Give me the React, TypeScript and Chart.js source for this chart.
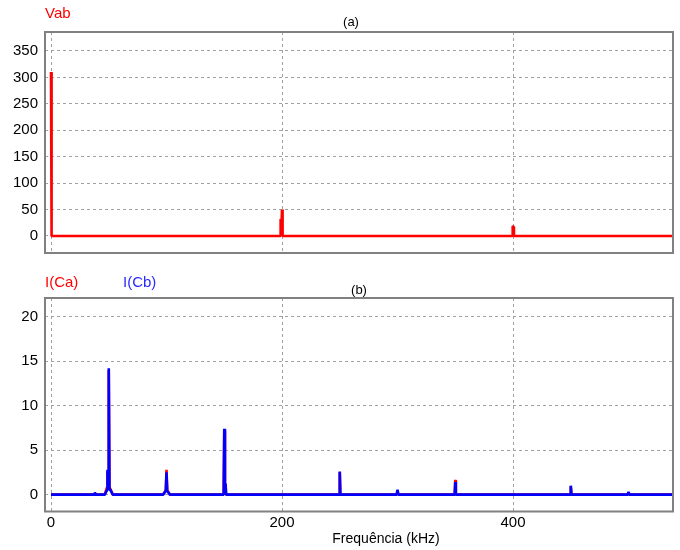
import React, { useEffect, useRef } from "react";
import { Chart, registerables } from "chart.js";

Chart.register(...registerables);

// ---- Data ----
// Panel (a): Vab spectrum (frequency in kHz, amplitude in V)
const vabFreq = [0, 0.5, 198.4, 198.8, 199.2, 199.6, 200, 200.5, 399.3, 399.7, 400.3, 400.8, 540];
const vabAmp = [310, 0, 0, 32, 0, 0, 50, 0, 0, 19, 18, 0, 0];

// Panel (b): I(Ca) spectrum (A)
const caFreq = [0, 37.6, 38, 38.4, 46.5, 48.5, 48.9, 49.4, 50, 50.6, 51.5, 53.5, 97, 99.4, 100, 100.6, 103, 149.5, 150, 150.6, 151.1, 151.6, 249.5, 250, 250.5, 299.3, 300, 300.7, 349.5, 350, 350.5, 449.4, 450, 450.6, 499.3, 500, 500.7, 540];
const caAmp = [0, 0, 0.2, 0, 0, 0.8, 2.6, 0.8, 14, 0.8, 0.6, 0, 0, 0.5, 2.8, 0.5, 0, 0, 7.2, 0.2, 1.2, 0, 0, 2.5, 0, 0, 0.5, 0, 0, 1.65, 0, 0, 0.9, 0, 0, 0.25, 0, 0];

// Panel (b): I(Cb) spectrum (A)
const cbFreq = [0, 37.6, 38, 38.4, 46.5, 48.5, 48.9, 49.4, 50, 50.6, 51.5, 53.5, 97, 99.4, 100, 100.6, 103, 149.5, 150, 150.6, 151.1, 151.6, 249.5, 250, 250.5, 299.3, 300, 300.7, 349.5, 350, 350.5, 449.4, 450, 450.6, 499.3, 500, 500.7, 540];
const cbAmp = [0, 0, 0.25, 0, 0, 0.5, 2.8, 0.6, 14.2, 0.6, 0.5, 0, 0, 0.4, 2.5, 0.4, 0, 0, 7.4, 0.3, 1.25, 0, 0, 2.6, 0, 0, 0.55, 0, 0, 1.4, 0, 0, 1.0, 0, 0, 0.3, 0, 0];

const xMin = -5.2;
const xMax = 538.5;
const xTicks = [0, 200, 400];
const yTicksA = [0, 50, 100, 150, 200, 250, 300, 350];
const yTicksB = [0, 5, 10, 15, 20];

const titleA = "(a)";
const titleB = "(b)";
const labelVab = "Vab";
const labelCa = "I(Ca)";
const labelCb = "I(Cb)";
const xTitle = "Frequência (kHz)";

const FONT = "'Liberation Sans', Arial, sans-serif";
const RED = "#ff0000";
const BLUE = "#0000ff";
const GRID = "#a0a0a0";
const FRAME = "#808080";

const toPoints = (xs: number[], ys: number[]) => xs.map((x, i) => ({ x, y: ys[i] }));

type TextItem = { text: string; color: string; size: number; align: CanvasTextAlign; dx: number; dy: number };

function framePlugin(texts: TextItem[]) {
  return {
    id: "frameAndText",
    afterDatasetsDraw(chart: any) {
      const { ctx, chartArea } = chart;
      ctx.save();
      ctx.strokeStyle = FRAME;
      ctx.lineWidth = 2;
      ctx.strokeRect(chartArea.left, chartArea.top, chartArea.right - chartArea.left, chartArea.bottom - chartArea.top);
      ctx.restore();
    },
    afterDraw(chart: any) {
      const { ctx, chartArea } = chart;
      ctx.save();
      ctx.textBaseline = "middle";
      for (const t of texts) {
        ctx.font = `${t.size}px ${FONT}`;
        ctx.fillStyle = t.color;
        ctx.textAlign = t.align;
        ctx.fillText(t.text, chartArea.left + t.dx, chartArea.top + t.dy);
      }
      ctx.restore();
    },
  };
}

function makeScales(yMin: number, yMax: number, yTicks: number[], showX: boolean, xAxisHeight: number) {
  return {
    x: {
      type: "linear" as const,
      min: xMin,
      max: xMax,
      afterBuildTicks: (s: any) => {
        s.ticks = xTicks.map((v) => ({ value: v }));
      },
      afterFit: (s: any) => {
        s.height = xAxisHeight;
        s.paddingLeft = 0;
        s.paddingRight = 0;
      },
      grid: { color: GRID, lineWidth: 1, drawTicks: false },
      border: { display: false, dash: [3, 3] },
      ticks: {
        display: showX,
        color: "#000",
        font: { family: FONT, size: 15 },
        padding: 2,
        maxRotation: 0,
      },
    },
    y: {
      type: "linear" as const,
      min: yMin,
      max: yMax,
      afterBuildTicks: (s: any) => {
        s.ticks = yTicks.map((v) => ({ value: v }));
      },
      afterFit: (s: any) => {
        s.width = 45;
        s.paddingTop = 0;
        s.paddingBottom = 0;
      },
      grid: { color: GRID, lineWidth: 1, drawTicks: false },
      border: { display: false, dash: [3, 3] },
      ticks: {
        color: "#000",
        font: { family: FONT, size: 15 },
        padding: 7,
      },
    },
  };
}

const lineStyle = {
  borderWidth: 2.6,
  pointRadius: 0,
  tension: 0,
  borderJoinStyle: "bevel" as const,
  borderCapStyle: "butt" as const,
};

export default function App() {
  const refA = useRef<HTMLCanvasElement>(null);
  const refB = useRef<HTMLCanvasElement>(null);

  useEffect(() => {
    const chartA = new Chart(refA.current as HTMLCanvasElement, {
      type: "line",
      data: {
        datasets: [
          {
            label: labelVab,
            data: toPoints(vabFreq, vabAmp),
            borderColor: RED,
            backgroundColor: RED,
            ...lineStyle,
          },
        ],
      },
      options: {
        responsive: false,
        animation: false,
        devicePixelRatio: 1,
        layout: { padding: { top: 32, right: 7, bottom: 12, left: 0 } },
        plugins: { legend: { display: false }, tooltip: { enabled: false }, title: { display: false } },
        scales: makeScales(-32.2, 385.9, yTicksA, false, 0) as any,
      },
      plugins: [
        framePlugin([
          { text: titleA, color: "#000", size: 13, align: "center", dx: 306, dy: -10 },
          { text: labelVab, color: RED, size: 15, align: "left", dx: 0, dy: -18 },
        ]),
      ],
    });

    const chartB = new Chart(refB.current as HTMLCanvasElement, {
      type: "line",
      data: {
        datasets: [
          {
            label: labelCa,
            data: toPoints(caFreq, caAmp),
            borderColor: RED,
            backgroundColor: RED,
            ...lineStyle,
            order: 2,
          },
          {
            label: labelCb,
            data: toPoints(cbFreq, cbAmp),
            borderColor: BLUE,
            backgroundColor: BLUE,
            ...lineStyle,
            order: 1,
          },
        ],
      },
      options: {
        responsive: false,
        animation: false,
        devicePixelRatio: 1,
        layout: { padding: { top: 33, right: 7, bottom: 0, left: 0 } },
        plugins: { legend: { display: false }, tooltip: { enabled: false }, title: { display: false } },
        scales: makeScales(-1.9, 22.1, yTicksB, true, 38.5) as any,
      },
      plugins: [
        framePlugin([
          { text: titleB, color: "#000", size: 13, align: "center", dx: 314, dy: -8 },
          { text: labelCa, color: RED, size: 15, align: "left", dx: 0, dy: -15 },
          { text: labelCb, color: "#2a2aff", size: 15, align: "left", dx: 78, dy: -15 },
          { text: xTitle, color: "#000", size: 14, align: "center", dx: 341, dy: 241 },
        ]),
      ],
    });

    return () => {
      chartA.destroy();
      chartB.destroy();
    };
  }, []);

  return (
    <div style={{ position: "absolute", left: 0, top: 0, width: 680, height: 550, background: "#fff" }}>
      <canvas ref={refA} width={680} height={265} style={{ position: "absolute", left: 0, top: 0 }} />
      <canvas ref={refB} width={680} height={285} style={{ position: "absolute", left: 0, top: 265 }} />
    </div>
  );
}
